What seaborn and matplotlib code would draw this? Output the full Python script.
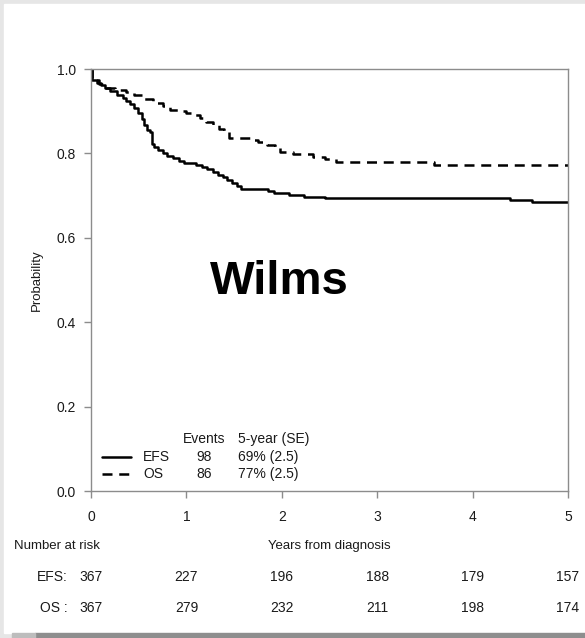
import numpy as np
import pandas as pd
import matplotlib
matplotlib.use('Agg')
import matplotlib.pyplot as plt
from matplotlib.patches import Rectangle
import seaborn as sns

# Kaplan-Meier estimates (time in years, probability)
efs_time = [0, 0.01, 0.06, 0.10, 0.15, 0.20, 0.27, 0.33, 0.37, 0.41, 0.45, 0.49,
            0.53, 0.56, 0.59, 0.62, 0.64, 0.66, 0.70, 0.75, 0.80, 0.86, 0.92, 0.97,
            1.10, 1.16, 1.22, 1.28, 1.33, 1.38, 1.43, 1.48, 1.53, 1.57, 1.86, 1.92,
            2.08, 2.23, 2.45, 4.39, 4.62, 5.0]
efs_surv = [1.0, 0.975, 0.968, 0.962, 0.955, 0.947, 0.938, 0.931, 0.925, 0.916, 0.907, 0.895,
            0.882, 0.868, 0.856, 0.850, 0.822, 0.815, 0.808, 0.800, 0.795, 0.788, 0.782, 0.777,
            0.773, 0.767, 0.762, 0.755, 0.749, 0.743, 0.737, 0.729, 0.722, 0.716, 0.711, 0.707,
            0.702, 0.697, 0.694, 0.690, 0.686, 0.686]

os_time = [0, 0.01, 0.08, 0.16, 0.25, 0.37, 0.45, 0.55, 0.65, 0.75, 0.83, 0.92, 1.00,
           1.07, 1.14, 1.21, 1.28, 1.34, 1.39, 1.45, 1.67, 1.75, 1.84, 1.93, 1.98, 2.12,
           2.33, 2.45, 2.57, 3.60, 5.0]
os_surv = [1.0, 0.975, 0.965, 0.955, 0.950, 0.945, 0.938, 0.930, 0.920, 0.912, 0.904, 0.900, 0.896,
           0.890, 0.883, 0.875, 0.867, 0.859, 0.851, 0.836, 0.832, 0.826, 0.820, 0.812, 0.803, 0.798,
           0.792, 0.786, 0.780, 0.773, 0.772]

groups = ['EFS', 'OS']
events = [98, 86]
five_year = ['69% (2.5)', '77% (2.5)']
risk_years = [0, 1, 2, 3, 4, 5]
risk_efs = [367, 227, 196, 188, 179, 157]
risk_os = [367, 279, 232, 211, 198, 174]

sns.set_style("ticks")
plt.rcParams['font.family'] = ['Liberation Sans', 'DejaVu Sans']

spine_col = '#8c8c8c'
txt_col = '#1a1a1a'
dash = (0, (4, 2.7))

fig = plt.figure(figsize=(5.85, 6.38), dpi=100)
fig.patch.set_facecolor('white')
# slide-like border
fig.patches.append(Rectangle((0, 0), 1, 1, transform=fig.transFigure, color='#e6e6e6', zorder=-5))
fig.patches.append(Rectangle((4 / 585, 5 / 638), 1, 1 - 9 / 638, transform=fig.transFigure,
                             color='white', zorder=-4))
fig.patches.append(Rectangle((0.06, 0), 1, 5 / 638, transform=fig.transFigure, color='#8e8e8e', zorder=-4))
fig.patches.append(Rectangle((0.02, 0), 0.04, 5 / 638, transform=fig.transFigure, color='#bdbdbd', zorder=-4))

ax = fig.add_axes([0.1556, 0.2304, 0.8154, 0.6614])
ax.set_facecolor('white')

df_efs = pd.DataFrame({'time': efs_time, 'prob': efs_surv})
df_os = pd.DataFrame({'time': os_time, 'prob': os_surv})
sns.lineplot(data=df_efs, x='time', y='prob', ax=ax, color='black', lw=1.8,
             drawstyle='steps-post', estimator=None, sort=False)
sns.lineplot(data=df_os, x='time', y='prob', ax=ax, color='black', lw=1.8,
             drawstyle='steps-post', estimator=None, sort=False, linestyle=dash)

ax.set_xlim(0, 5)
ax.set_ylim(0, 1)
ax.set_xticks(risk_years)
ax.set_yticks([0.0, 0.2, 0.4, 0.6, 0.8, 1.0])
ax.set_yticklabels(['0.0', '0.2', '0.4', '0.6', '0.8', '1.0'])
for s in ax.spines.values():
    s.set_color(spine_col)
    s.set_linewidth(1.0)
ax.tick_params(axis='both', direction='out', length=5, width=1, color=spine_col,
               labelsize=10, labelcolor=txt_col)
ax.tick_params(axis='y', pad=6)
ax.tick_params(axis='x', pad=9)

ax.set_ylabel('Probability', fontsize=9.5, color=txt_col, labelpad=10)
ax.set_xlabel('Years from diagnosis', fontsize=9.5, color=txt_col)
ax.xaxis.set_label_coords(0.5, -0.130)
ax.xaxis.label.set_va('center')

ax.text(0.394, 0.495, 'Wilms', transform=ax.transAxes, ha='center', va='center',
        fontsize=34, fontweight='bold', color='black')

# in-plot legend table
ax.text(0.237, 0.123, 'Events', transform=ax.transAxes, ha='center', va='center',
        fontsize=10, color=txt_col)
ax.text(0.3075, 0.123, '5-year (SE)', transform=ax.transAxes, ha='left', va='center',
        fontsize=10, color=txt_col)
legend_y = [0.081, 0.040]
legend_ls = ['-', dash]
for g, ev, fy, yy, ls in zip(groups, events, five_year, legend_y, legend_ls):
    ax.plot([0.022, 0.083], [yy, yy], transform=ax.transAxes, color='black', lw=1.8,
            linestyle=ls, clip_on=False)
    ax.text(0.109, yy, g, transform=ax.transAxes, ha='left', va='center', fontsize=10, color=txt_col)
    ax.text(0.237, yy, str(ev), transform=ax.transAxes, ha='center', va='center',
            fontsize=10, color=txt_col)
    ax.text(0.3075, yy, fy, transform=ax.transAxes, ha='left', va='center', fontsize=10, color=txt_col)

# number at risk table
trans = ax.get_xaxis_transform()
ax.text(-0.161, -0.130, 'Number at risk', transform=ax.transAxes, ha='left', va='center',
        fontsize=9.5, color=txt_col)
for label, counts, yy in [('EFS:', risk_efs, -0.204), ('OS :', risk_os, -0.277)]:
    ax.text(-0.050, yy, label, transform=ax.transAxes, ha='right', va='center',
            fontsize=10, color=txt_col)
    for yr, n in zip(risk_years, counts):
        ax.text(yr, yy, str(n), transform=trans, ha='center', va='center',
                fontsize=10, color=txt_col, clip_on=False)

fig.savefig('out.png', dpi=100)
